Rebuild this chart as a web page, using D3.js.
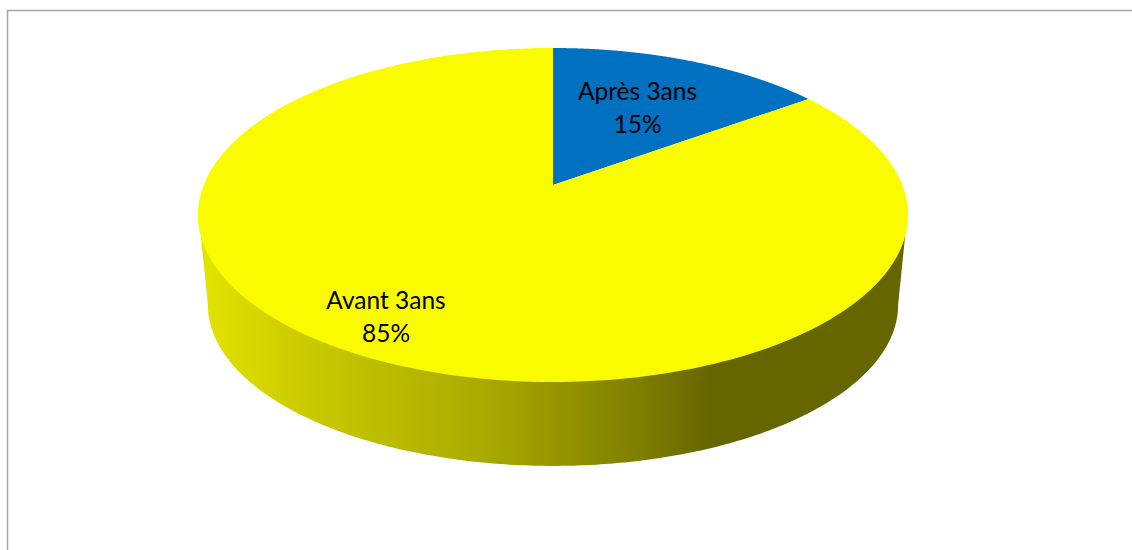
<!DOCTYPE html>
<html><head><meta charset="utf-8">
<script src="https://cdn.jsdelivr.net/npm/d3@7"></script>
<style>html,body{margin:0;padding:0;background:#fff;overflow:hidden}svg{display:block}</style>
</head><body><script>
const categories = ["Après 3ans", "Avant 3ans"];
const values = [15, 85];
const colors = ["#0070c0", "#fbfb00"];
const labelLines = [["Après 3ans", "15%"], ["Avant 3ans", "85%"]];
const labelAnchors = [[637.5, 100], [386, 309]];
const sideStops = [[0, "#e4e400"], [0.16, "#c9c900"], [0.4, "#aaaa00"], [0.62, "#7f7f00"], [0.72, "#666600"], [1, "#666600"]];

const W = 1132, H = 550;
const svg = d3.select("body").append("svg").attr("width", W).attr("height", H);

// Perspective projection of a tilted disc
const k = 0.1796;
function projector(a, b, cx, cy) {
  return t => {
    const u = Math.sin(t), v = -Math.cos(t), w = 1 - k * v;
    return [cx + a * u / w, cy + b * v / w];
  };
}
const topP = projector(349.3, 161.6, 553, 185);
const botP = projector(339.5, 155.8, 553, 276);

const pie = d3.pie().value(d => d).sort(null);
const arcs = pie(values);
const line = d3.line();
const samples = (a0, a1) => d3.range(0, 241).map(i => a0 + (a1 - a0) * i / 240);

// side wall
const defs = svg.append("defs");
const grad = defs.append("linearGradient").attr("id", "side")
  .attr("gradientUnits", "userSpaceOnUse").attr("x1", 198).attr("x2", 908).attr("y1", 0).attr("y2", 0);
grad.selectAll("stop").data(sideStops).join("stop")
  .attr("offset", d => d[0]).attr("stop-color", d => d[1]);

const front0 = Math.PI * 0.557, front1 = Math.PI * 1.443;
const rimR = Math.PI * 0.598, rimL = Math.PI * 1.402;
const sidePts = [topP(rimR)].concat(samples(front0, front1).map(botP), [topP(rimL)]);
svg.append("path").attr("d", line(sidePts) + "Z").attr("fill", "url(#side)");

// frame
svg.append("path").attr("d", `M7.5 ${H}V10.5H${W}`).attr("fill", "none").attr("stroke", "#a6a6a6").attr("stroke-width", 1.5);

// top slices
const apex = [553, 185];
svg.selectAll("path.slice").data(arcs).join("path").attr("class", "slice")
  .attr("fill", (d, i) => colors[i])
  .attr("d", d => line([apex].concat(samples(d.startAngle, d.endAngle).map(topP))) + "Z");

// labels
const lab = svg.selectAll("text.lab").data(categories).join("text").attr("class", "lab")
  .attr("font-family", "Lato, 'Open Sans', sans-serif").attr("font-size", 24.5).attr("fill", "#000")
  .attr("text-anchor", "middle");
lab.each(function (d, i) {
  const t = d3.select(this);
  labelLines[i].forEach((s, j) => t.append("tspan").attr("x", labelAnchors[i][0])
    .attr("y", labelAnchors[i][1] + j * 33).text(s));
});
</script></body></html>
